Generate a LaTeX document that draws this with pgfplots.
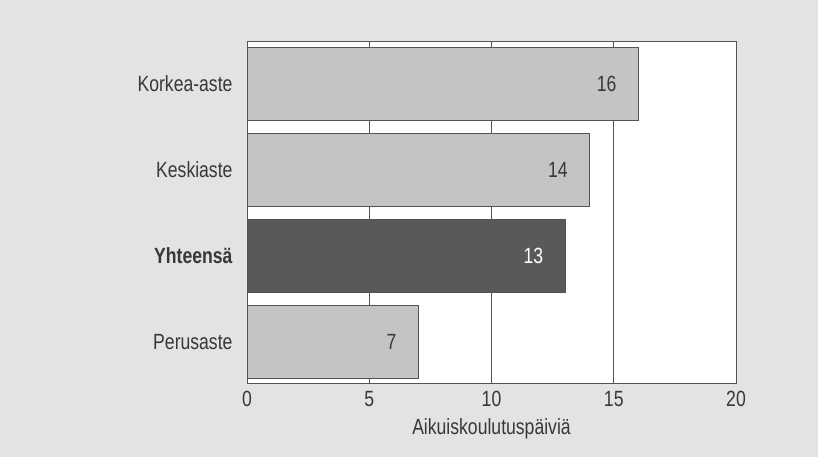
\documentclass[border=0pt]{standalone}
\usepackage{fontspec}
\setmainfont{Liberation Sans}[FakeStretch=0.8]
\usepackage{pgfplots}
\pgfplotsset{compat=1.18}
\definecolor{bg}{gray}{0.89}
\definecolor{barlight}{gray}{0.77}
\definecolor{bardark}{gray}{0.35}
\definecolor{ink}{gray}{0.22}
\definecolor{frame}{gray}{0.33}
\begin{document}
\begin{tikzpicture}
\fill[bg] (0,0) rectangle (818bp,457bp);
\begin{axis}[
  at={(247bp,74bp)}, anchor=south west,
  scale only axis,
  width=489bp, height=342bp,
  axis background/.style={fill=white},
  xbar, bar width=0.85, bar shift=0pt,
  xmin=0, xmax=20,
  ymin=-0.48, ymax=3.5,
  xtick={0,5,10,15,20},
  ytick={0,1,2,3},
  yticklabels={Perusaste,\textbf{Yhteensä},Keskiaste,Korkea-aste},
  xmajorgrids,
  major grid style={frame, line width=0.8pt},
  axis line style={frame, line width=0.8pt},
  major tick length=0pt,
  tick style={draw=none},
  /pgf/number format/assume math mode=true,
  ticklabel style={font=\fontsize{22bp}{26bp}\selectfont, text=ink},
  yticklabel style={xshift=-11bp},
  xticklabel style={yshift=-5bp},
  xlabel={Aikuiskoulutuspäiviä},
  xlabel style={font=\fontsize{22bp}{26bp}\selectfont, text=ink, yshift=-5bp},
  nodes near coords,
  every node near coord/.append style={anchor=east, xshift=-18bp,
    font=\fontsize{22bp}{26bp}\selectfont},
]
\addplot[fill=barlight, draw=frame, line width=0.7pt,
  every node near coord/.append style={text=ink}]
  coordinates {(7,0) (14,2) (16,3)};
\addplot[fill=bardark, draw=frame, line width=0.7pt,
  every node near coord/.append style={text=white}]
  coordinates {(13,1)};
\end{axis}
\end{tikzpicture}
\end{document}
